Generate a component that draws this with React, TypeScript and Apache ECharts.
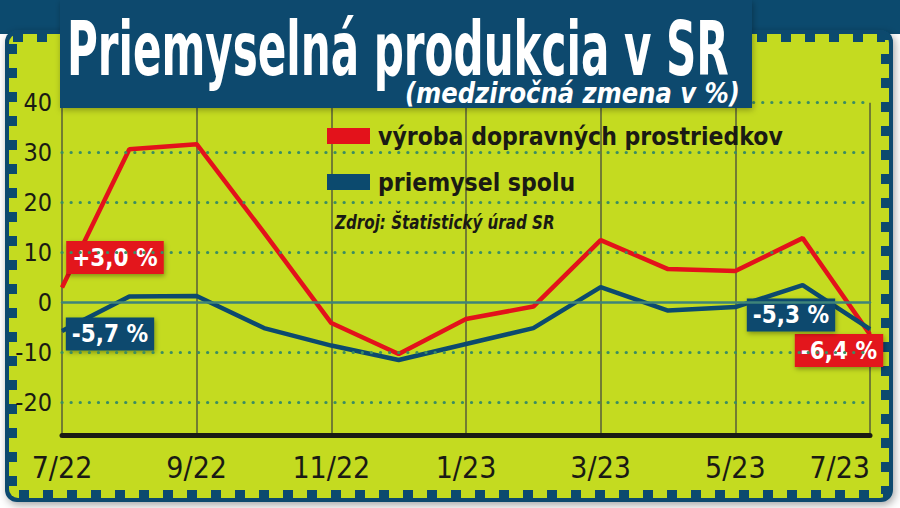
import React, { useEffect, useRef } from "react";
import * as echarts from "echarts";

const months = ["7/22", "8/22", "9/22", "10/22", "11/22", "12/22", "1/23", "2/23", "3/23", "4/23", "5/23", "6/23", "7/23"];
const vyroba = [3.0, 30.7, 31.7, 14.0, -4.1, -10.3, -3.3, -0.8, 12.5, 6.7, 6.3, 12.9, -6.4];
const priemysel = [-5.7, 1.2, 1.3, -5.1, -8.6, -11.5, -8.3, -5.1, 3.1, -1.6, -0.9, 3.5, -5.3];
const yTicks = [-20, -10, 0, 10, 20, 30, 40];
const dottedLevels = [-20, -10, 10, 20, 30, 40];
const zeroLevel = 0;
const vyrobaLabels = ["+3,0 %", "-6,4 %"];
const priemyselLabels = ["-5,7 %", "-5,3 %"];
const seriesNames = ["výroba dopravných prostriedkov", "priemysel spolu"];
const titleText = "Priemyselná produkcia v SR";
const subtitleText = "(medziročná zmena v %)";
const sourceText = "Zdroj: Štatistický úrad SR";

const RED = "#e3121b";
const BLUE = "#0c4a6e";
const LIME = "#c4db20";
const DOT = "#3a8d62";
const TEAL = "#3e8479";
const INK = "#1a1a14";
const NARROW = "'Liberation Sans Narrow', 'DejaVu Sans Condensed', 'Roboto Condensed', 'Roboto', 'Noto Sans', sans-serif";

function measure(text: string, font: string): number {
  const c = document.createElement("canvas");
  const ctx = c.getContext("2d");
  if (!ctx) return text.length * 10;
  ctx.font = font;
  return ctx.measureText(text).width;
}

export default function App() {
  const ref = useRef<HTMLDivElement>(null);
  useEffect(() => {
    if (!ref.current) return;
    const chart = echarts.init(ref.current, null, { renderer: "svg" });

    const titleSize = 74;
    const titleW = measure(titleText, `bold ${titleSize}px ${NARROW}`);
    const titleScale = 662 / titleW;
    const subSize = 29;
    const subW = measure(subtitleText, `italic bold ${subSize}px ${NARROW}`);
    const subScale = 335 / subW;
    const legBase = 30;
    const legW = measure(seriesNames[0], `bold ${legBase}px ${NARROW}`);
    const legSize = Math.min(34, (legBase * 405) / legW);
    const srcBase = 20;
    const srcW = measure(sourceText, `italic bold ${srcBase}px ${NARROW}`);
    const srcScale = 220 / srcW;

    const boxLabel = (text: string, bg: string, offset: number[]) => ({
      show: true,
      position: "inside",
      formatter: text,
      offset,
      color: "#ffffff",
      fontFamily: NARROW,
      fontWeight: "bold",
      fontSize: 24,
      backgroundColor: bg,
      padding: [5, 6, 4, 6],
      shadowBlur: 5,
      shadowColor: "rgba(0,0,0,0.35)",
      shadowOffsetX: 1,
      shadowOffsetY: 2,
    });

    const last = months.length - 1;
    const redData = vyroba.map((v, i) => {
      if (i === 0) return { value: v, label: boxLabel(vyrobaLabels[0], RED, [53, -30]) };
      if (i === last) return { value: v, label: boxLabel(vyrobaLabels[1], RED, [-31, 16]) };
      return v;
    });
    const blueData = priemysel.map((v, i) => {
      if (i === 0) return { value: v, label: boxLabel(priemyselLabels[0], BLUE, [48, 3]) };
      if (i === last) return { value: v, label: boxLabel(priemyselLabels[1], BLUE, [-79, -14]) };
      return v;
    });

    const option: any = {
      animation: false,
      backgroundColor: "#ffffff",
      grid: { left: 62, right: 30, top: 102.7, bottom: 73, containLabel: false },
      legend: {
        orient: "vertical",
        left: 322,
        top: 115,
        itemWidth: 43,
        itemHeight: 16,
        itemGap: 14,
        selectedMode: false,
        data: [
          { name: seriesNames[0], icon: "rect" },
          { name: seriesNames[1], icon: "rect" },
        ],
        textStyle: {
          fontFamily: NARROW,
          fontWeight: "bold",
          fontSize: legSize,
          lineHeight: 32,
          color: INK,
          padding: [0, 0, 0, 3],
        },
      },
      xAxis: {
        type: "category",
        data: months,
        boundaryGap: false,
        axisLine: { show: true, onZero: false, lineStyle: { color: INK, width: 5 } },
        axisTick: { show: false, interval: 1 },
        axisLabel: {
          interval: 1,
          margin: 17,
          fontFamily: NARROW,
          fontSize: 30,
          color: INK,
          alignMaxLabel: "right",
        },
        splitLine: { show: true, interval: 1, lineStyle: { color: "rgba(70,75,60,0.65)", width: 2 } },
      },
      yAxis: {
        type: "value",
        min: -26.5,
        max: 40,
        axisLine: { show: false },
        axisTick: { show: false },
        splitLine: { show: false },
        axisLabel: {
          customValues: yTicks,
          margin: 10,
          fontFamily: NARROW,
          fontSize: 25,
          color: INK,
        },
      },
      graphic: [
        { type: "rect", z: -10, shape: { x: 0, y: 0, width: 900, height: 34 }, style: { fill: BLUE } },
        {
          type: "rect",
          z: -9,
          shape: { x: 5, y: 30, width: 888, height: 472, r: 12 },
          style: { fill: BLUE, shadowBlur: 8, shadowColor: "rgba(0,0,0,0.35)", shadowOffsetX: 2, shadowOffsetY: 3 },
        },
        { type: "rect", z: -8, shape: { x: 9, y: 34, width: 880, height: 464, r: 9 }, style: { fill: LIME } },
        {
          type: "rect",
          z: -7,
          shape: { x: 13, y: 38, width: 872, height: 456 },
          style: { fill: "none", stroke: BLUE, lineWidth: 8, lineDash: [10, 14] },
        },
        {
          type: "rect",
          z: 100,
          shape: { x: 60, y: 0, width: 692, height: 108 },
          style: { fill: BLUE, shadowBlur: 6, shadowColor: "rgba(0,0,0,0.3)", shadowOffsetX: 1, shadowOffsetY: 2 },
        },
        {
          type: "text",
          z: 101,
          x: 67,
          y: 50,
          scaleX: titleScale,
          style: {
            text: titleText,
            fill: "#ffffff",
            font: `bold ${titleSize}px ${NARROW}`,
            align: "left",
            verticalAlign: "middle",
          },
        },
        {
          type: "text",
          z: 101,
          x: 405,
          y: 93,
          scaleX: subScale,
          style: {
            text: subtitleText,
            fill: "#ffffff",
            font: `italic bold ${subSize}px ${NARROW}`,
            align: "left",
            verticalAlign: "middle",
          },
        },
        {
          type: "text",
          z: 5,
          x: 335,
          y: 222,
          scaleX: srcScale,
          style: {
            text: sourceText,
            fill: INK,
            font: `italic bold ${srcBase}px ${NARROW}`,
            align: "left",
            verticalAlign: "middle",
          },
        },
      ],
      series: [
        {
          type: "line",
          name: "grid-levels",
          data: [],
          z: 1,
          silent: true,
          markLine: {
            silent: true,
            symbol: ["none", "none"],
            label: { show: false },
            animation: false,
            lineStyle: { type: [0.1, 9], cap: "round", width: 3.2, color: DOT },
            data: [
              ...dottedLevels.map((y) => ({ yAxis: y })),
              { yAxis: zeroLevel, lineStyle: { type: "solid", width: 2.5, color: TEAL } },
            ],
          },
        },
        {
          type: "line",
          name: seriesNames[0],
          data: redData,
          z: 3,
          symbol: "circle",
          symbolSize: 1,
          showSymbol: true,
          showAllSymbol: true,
          itemStyle: { color: RED },
          lineStyle: { color: RED, width: 4.5 },
          label: { show: false },
        },
        {
          type: "line",
          name: seriesNames[1],
          data: blueData,
          z: 4,
          symbol: "circle",
          symbolSize: 1,
          showSymbol: true,
          showAllSymbol: true,
          itemStyle: { color: BLUE },
          lineStyle: { color: BLUE, width: 4.5 },
          label: { show: false },
        },
      ],
    };
    chart.setOption(option);
    return () => chart.dispose();
  }, []);

  return (
    <div
      ref={ref}
      style={{ position: "fixed", left: 0, top: 0, width: 900, height: 508, background: "#ffffff" }}
    />
  );
}
